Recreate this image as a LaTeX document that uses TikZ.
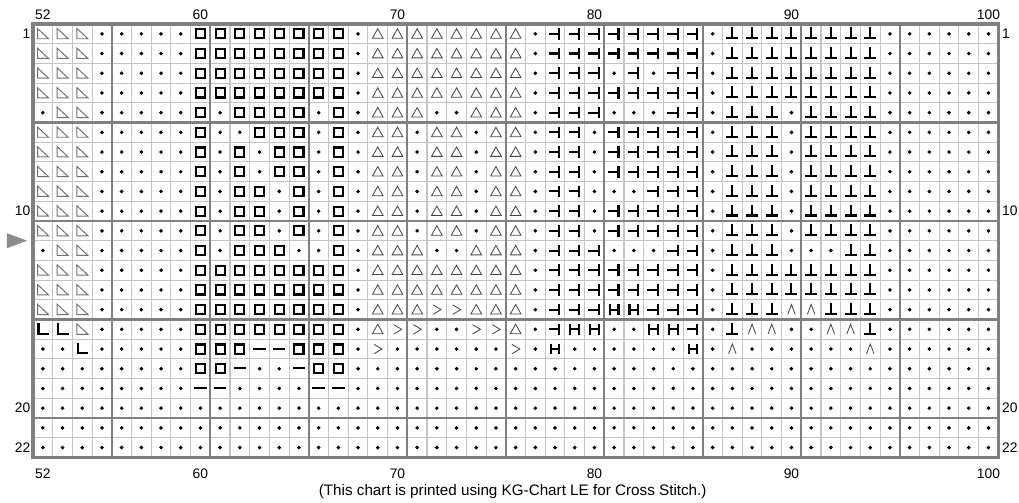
\documentclass[tikz,border=0pt]{standalone}
\usepackage{fontspec}
\setmainfont{Liberation Sans}
\usepackage{tikz}
\usetikzlibrary{positioning}
\definecolor{cGridThin}{RGB}{196,196,196}
\definecolor{cGridBold}{RGB}{128,128,128}
\definecolor{cMark}{RGB}{70,70,70}
\definecolor{cHalf}{RGB}{112,112,112}
\definecolor{cArrow}{RGB}{140,140,140}
\tikzset{
	gridthin/.style={draw=cGridThin, line width=0.8pt},
	gridbold/.style={draw=cGridBold, line width=1.5pt},
	gridframe/.style={draw=cGridBold, line width=2.2pt},
	boldmark/.style={draw=black, line width=1.5pt, line cap=rect, line join=miter},
	thinmark/.style={draw=cMark, line width=0.6pt, line join=miter},
	numlabel/.style={font=\fontsize{10}{12}\selectfont, inner sep=0pt},
	% stitch symbols, one per key letter
	symd/.pic={\fill[black] (0,0) circle (0.1);},
	symt/.pic={\draw[thinmark, draw=cHalf, line width=0.7pt] (-0.27,0.27) -- (-0.27,-0.25) -- (0.29,-0.25) -- cycle;},
	syms/.pic={\draw[boldmark] (-0.23,-0.23) rectangle (0.23,0.23);},
	syma/.pic={\draw[thinmark] (-0.27,-0.22) -- (0.27,-0.22) -- (0,0.26) -- cycle;},
	symj/.pic={\draw[boldmark] (-0.26,0) -- (0.22,0) (0.22,-0.24) -- (0.22,0.24);},
	symp/.pic={\draw[boldmark] (-0.25,-0.22) -- (0.25,-0.22) (0,-0.22) -- (0,0.28);},
	syml/.pic={\draw[boldmark] (-0.22,0.26) -- (-0.22,-0.22) -- (0.26,-0.22);},
	symm/.pic={\draw[boldmark] (-0.26,0.02) -- (0.26,0.02);},
	symh/.pic={\draw[boldmark] (-0.22,-0.22) -- (-0.22,0.22) (0.22,-0.22) -- (0.22,0.22) (-0.22,0) -- (0.22,0);},
	symg/.pic={\draw[thinmark] (-0.19,0.24) -- (0.21,0) -- (-0.19,-0.24);},
	symc/.pic={\draw[thinmark] (-0.19,-0.24) -- (0,0.26) -- (0.19,-0.24);},
}
\makeatletter
\newcount\stitchcol
\newcommand{\stitchrow}[2]{%
	\stitchcol=0
	\@tfor\stitchch:=#2\do{%
		\edef\stitchnext{\noexpand\pic at (\the\stitchcol+0.5,-#1+0.5) {sym\stitchch};}%
		\stitchnext
		\advance\stitchcol by 1
	}}
\makeatother

\begin{document}
\begin{tikzpicture}[x=0.5cm, y=0.5cm]
	\useasboundingbox (-1.675,1.218) rectangle (50.051,-24.315);
	% cells
	\foreach \i in {1,...,48} \draw[gridthin] (\i,0) -- (\i,-22);
	\foreach \j in {1,...,21} \draw[gridthin] (0,-\j) -- (49,-\j);
	\foreach \i in {4,9,...,44} \draw[gridbold] (\i,0) -- (\i,-22);
	\foreach \j in {5,10,15,20} \draw[gridbold] (0,-\j) -- (49,-\j);
	\draw[gridframe] (0,0) rectangle (49,-22);

	\stitchrow{1}{ttt ddddd ssssssss d aaaaaaaa d jjjjjjjj d pppppppp dddddd}
	\stitchrow{2}{ttt ddddd ssssssss d aaaaaaaa d jjjjjjjj d pppppppp dddddd}
	\stitchrow{3}{ttt ddddd ssssssss d aaaaaaaa d jjjdjdjj d pppppppp dddddd}
	\stitchrow{4}{ttt ddddd ssssssss d aaaaaaaa d jjjjjjjj d pppppppp dddddd}
	\stitchrow{5}{dtt ddddd sdssssds d aaaddaaa d jjjdddjj d pppdpppp dddddd}
	\stitchrow{6}{ttt ddddd sddsssds d aadaadaa d jjdjjjjj d pppdpppp dddddd}
	\stitchrow{7}{ttt ddddd sdsdssds d aadaadaa d jjdjjjjj d pppdpppp dddddd}
	\stitchrow{8}{ttt ddddd sdsdssds d aadaadaa d jjdjjjjj d pppdpppp dddddd}
	\stitchrow{9}{ttt ddddd sdssdsds d aadaadaa d jjdddjjj d pppdpppp dddddd}
	\stitchrow{10}{ttt ddddd sdssdsds d aadaadaa d jjdjjjjj d pppdpppp dddddd}
	\stitchrow{11}{ttt ddddd sdssdsds d aadaadaa d jjdjjjjj d pppdpppp dddddd}
	\stitchrow{12}{dtt ddddd sdsssdds d aaaddaaa d jjjdddjj d pppdddpp dddddd}
	\stitchrow{13}{ttt ddddd ssssssss d aaaaaaaa d jjjjjjjj d pppppppp dddddd}
	\stitchrow{14}{ttt ddddd ssssssss d aaaaaaaa d jjjjjjjj d pppppppp dddddd}
	\stitchrow{15}{ttt ddddd ssssssss d aaaggaaa d jjjhhjjj d pppccppp dddddd}
	\stitchrow{16}{llt ddddd ssssssss d aggddgga d jhhddhhj d pccddccp dddddd}
	\stitchrow{17}{ddl ddddd sssmmsss d gddddddg d hddddddh d cddddddc dddddd}
	\stitchrow{18}{ddd ddddd ssmddmss d dddddddd d dddddddd d dddddddd dddddd}
	\stitchrow{19}{ddd ddddd mmddddmm d dddddddd d dddddddd d dddddddd dddddd}
	\foreach \r in {20,21,22} {
		\stitchrow{\r}{ddd ddddd dddddddd d dddddddd d dddddddd d dddddddd dddddd}
	}

	% column and row numbers
	\foreach \c in {52,60,70,80,90,100} {
		\node[numlabel] (top\c) at (\c-52+0.5,0.46) {\c};
		\node[numlabel] (bottom\c) at (\c-52+0.5,-22.81) {\c};
	}
	\foreach \r in {1,10,20,22} {
		\node[numlabel, anchor=east] (left\r) at (-0.12,-\r+0.5) {\r};
		\node[numlabel, anchor=west] (right\r) at (49.18,-\r+0.5) {\r};
	}
	\fill[cArrow] (-1.32,-10.62) -- (-0.3,-11) -- (-1.32,-11.38) -- cycle;
	\node[numlabel, font=\fontsize{11}{13}\selectfont] (caption) at (24.35,-23.74) {(This chart is printed using KG-Chart LE for Cross Stitch.)};
\end{tikzpicture}
\end{document}
